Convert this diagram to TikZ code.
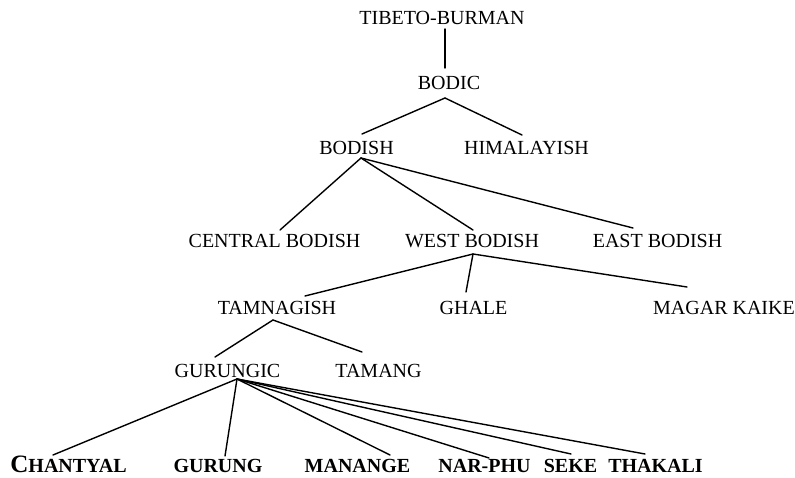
\documentclass[tikz,border=0pt]{standalone}
\usepackage{fontspec}
\setmainfont{Liberation Serif}
\begin{document}
\begin{tikzpicture}[x=1pt,y=-1pt,
  lbl/.style={anchor=base,inner sep=0pt,font=\fontsize{20}{22}\selectfont},
  leaf/.style={anchor=base,inner sep=0pt,font=\fontsize{20}{22}\selectfont\bfseries},
  edge/.style={line width=1.4pt,line cap=round}]
\useasboundingbox (0,0) rectangle (795,478);
% nodes
\node[lbl] (tb) at (442,25) {TIBETO-BURMAN};
\node[lbl] (bodic) at (449,90) {BODIC};
\node[lbl] (bodish) at (356.5,155) {BODISH};
\node[lbl] (him) at (526.5,155) {HIMALAYISH};
\node[lbl] (cb) at (274.5,248) {CENTRAL BODISH};
\node[lbl] (wb) at (472,248) {WEST BODISH};
\node[lbl] (eb) at (657.5,248) {EAST BODISH};
\node[lbl] (tam) at (277,315) {TAMNAGISH};
\node[lbl] (ghale) at (473.5,315) {GHALE};
\node[lbl] (magar) at (724,315) {MAGAR KAIKE};
\node[lbl] (gurungic) at (227.5,377) {GURUNGIC};
\node[lbl] (tamang) at (378.5,377) {TAMANG};
\node[leaf] (chantyal) at (68.5,472) {{\fontsize{25}{25}\selectfont C}HANTYAL};
\node[leaf] (gurung) at (218,472) {GURUNG};
\node[leaf] (manange) at (357.5,472) {MANANGE};
\node[leaf] (narphu) at (484.5,472) {NAR-PHU};
\node[leaf] (seke) at (570.5,472) {SEKE};
\node[leaf] (thakali) at (655.5,472) {THAKALI};
% connectors
\draw[edge] ([shift={(3,4)}]tb.base) -- ([shift={(-4,-22)}]bodic.base);
\draw[edge] ([shift={(-4,8)}]bodic.base) -- ([shift={(5.5,-21)}]bodish.base);
\draw[edge] ([shift={(-4,8)}]bodic.base) -- ([shift={(-4.5,-20)}]him.base);
\draw[edge] ([shift={(4.5,3)}]bodish.base) -- ([shift={(5.5,-18)}]cb.base);
\draw[edge] ([shift={(4.5,3)}]bodish.base) -- ([shift={(1,-18)}]wb.base);
\draw[edge] ([shift={(4.5,3)}]bodish.base) -- ([shift={(-24.5,-20)}]eb.base);
\draw[edge] ([shift={(1,6)}]wb.base) -- ([shift={(28,-19)}]tam.base);
\draw[edge] ([shift={(1,6)}]wb.base) -- ([shift={(-7.5,-23)}]ghale.base);
\draw[edge] ([shift={(1,6)}]wb.base) -- ([shift={(-37,-28)}]magar.base);
\draw[edge] ([shift={(-4,5)}]tam.base) -- ([shift={(-12.5,-20)}]gurungic.base);
\draw[edge] ([shift={(-4,5)}]tam.base) -- ([shift={(-16.5,-25)}]tamang.base);
\draw[edge] ([shift={(9.5,2)}]gurungic.base) -- ([shift={(-15.5,-17)}]chantyal.base);
\draw[edge] ([shift={(9.5,2)}]gurungic.base) -- ([shift={(7,-16)}]gurung.base);
\draw[edge] ([shift={(9.5,2)}]gurungic.base) -- ([shift={(32.5,-17)}]manange.base);
\draw[edge] ([shift={(9.5,2)}]gurungic.base) -- ([shift={(4.5,-14)}]narphu.base);
\draw[edge] ([shift={(9.5,2)}]gurungic.base) -- ([shift={(0.5,-18)}]seke.base);
\draw[edge] ([shift={(9.5,2)}]gurungic.base) -- ([shift={(-10.5,-18)}]thakali.base);
\end{tikzpicture}
\end{document}
